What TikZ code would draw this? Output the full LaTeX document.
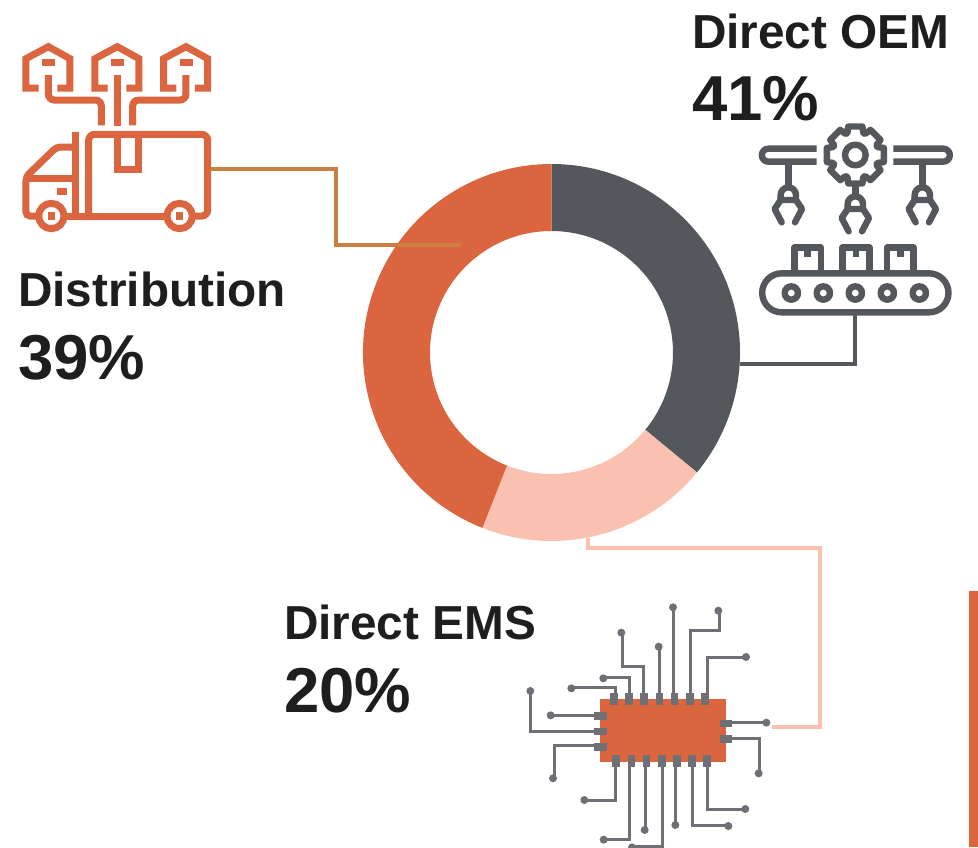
\documentclass[tikz,border=0pt]{standalone}
\usepackage{fontspec}
\setmainfont{Liberation Sans}
\definecolor{orangeC}{HTML}{DA653E}
\definecolor{darkC}{HTML}{54575B}
\definecolor{pinkC}{HTML}{FBC1B0}
\definecolor{ochreC}{HTML}{CB7F40}
\definecolor{padC}{HTML}{6F7075}
\definecolor{textC}{HTML}{1E1E1E}
\tikzset{
  head/.style={anchor=base west,inner sep=0pt,font=\bfseries\fontsize{47.7}{50}\selectfont,text=textC},
  pct/.style={anchor=base west,inner sep=0pt,font=\bfseries\fontsize{63.5}{66}\selectfont,text=textC},
  link/.style={line width=4pt},
  anchorbox/.style={inner sep=0pt,draw=none},
  truckline/.style={draw=orangeC,line width=7pt,line join=miter},
  robotline/.style={draw=darkC,line width=6.4pt,line join=round},
  wire/.style={draw=padC,line width=3pt},
  gripper/.pic={
    \draw[robotline,line cap=round] (-23,-5) -- (-23,-20) arc[start angle=180,end angle=360,radius=23] -- (23,-5) -- cycle;
    \draw[robotline,line cap=round] (-23,-5) -- (-41,22) -- (-20,62);
    \draw[robotline,line cap=round] (23,-5) -- (41,22) -- (20,62);
  }
}
\newcommand\wirepath[2]{\draw[wire] #1; \fill[padC] #2 circle[radius=12];}
\begin{document}
\begin{tikzpicture}[x=1pt,y=-1pt]
\useasboundingbox (0,0) rectangle (978,847);
\clip (0,0) rectangle (978,847);
\fill[white] (0,0) rectangle (978,847);

% donut
\begin{scope}[shift={(551.5,352.5)},x=1pt,y=1pt]
  \fill[darkC] (90:188.5) arc[start angle=90,end angle=-39.5,radius=188.5] -- (-39.5:121.5) arc[start angle=-39.5,end angle=90,radius=121.5] -- cycle;
  \fill[pinkC] (-39.5:188.5) arc[start angle=-39.5,end angle=-111.5,radius=188.5] -- (-111.5:121.5) arc[start angle=-111.5,end angle=-39.5,radius=121.5] -- cycle;
  \fill[orangeC] (-111.5:188.5) arc[start angle=-111.5,end angle=-270,radius=188.5] -- (90:121.5) arc[start angle=-270,end angle=-111.5,radius=121.5] -- cycle;
\end{scope}
\node[anchorbox,circle,minimum size=377pt] (donut) at (551.5,352.5) {};

% right bar
\fill[orangeC] (969,591) rectangle (978,847);

% labels
\node[head] (oemT) at (692,48) {Direct OEM};
\node[pct]  (oemP) at (692,120) {41\%};
\node[head] (disT) at (18,306) {Distribution};
\node[pct]  (disP) at (18,379) {39\%};
\node[head] (emsT) at (284,639) {Direct EMS};
\node[pct]  (emsP) at (284,712) {20\%};

% truck icon
\node[anchorbox,minimum width=188pt,minimum height=2pt] (truck) at (117,169) {};
\begin{scope}[shift={(0,20)},x=.33333pt,y=-.33333pt]
  \foreach \d in {0,207,413}{
    \draw[truckline] (116+\d,204) -- (78+\d,204) -- (78+\d,116) -- (145+\d,80) -- (210+\d,116) -- (210+\d,204) -- (172+\d,204);
    \fill[orangeC] (126+\d,117) rectangle (165+\d,137);
  }
  \draw[truckline,rounded corners=6pt] (145,165) -- (145,240) -- (304,240) -- (304,316);
  \draw[truckline,line width=7.4pt] (352,165) -- (352,318);
  \draw[truckline,rounded corners=6pt] (558,165) -- (558,240) -- (398,240) -- (398,316);
  \draw[truckline,rounded corners=6pt] (266,588) -- (266,343) -- (623,343) -- (623,588) -- (585,588);
  \draw[truckline] (200,588) -- (495,588);
  \draw[truckline] (352,343) -- (352,447) -- (417,447) -- (417,343);
  \draw[truckline] (228,336) -- (228,588);
  \draw[truckline,rounded corners=4pt] (228,381) -- (170,381) -- (78,470) -- (78,588) -- (110,588);
  \draw[truckline] (82,475) -- (228,475);
  \fill[orangeC] (171,504) rectangle (201,524);
  \foreach \c in {154,539}{
    \fill[white] (\c,588) circle[radius=38];
    \draw[truckline] (\c,588) circle[radius=38];
    \fill[orangeC] (\c-11,577) rectangle (\c+11,600);
  }
\end{scope}

% robot icon
\node[anchorbox,minimum width=4pt,minimum height=2pt] (belt) at (855.3,313) {};
\begin{scope}[shift={(740,110)},x=.33333pt,y=-.33333pt]
  \draw[robotline] (230,116) -- (85,116) arc[start angle=-90,end angle=-270,radius=19.5] -- (230,155);
  \draw[robotline] (460,116) -- (610,116) arc[start angle=-90,end angle=90,radius=19.5] -- (460,155);
  \begin{scope}[shift={(346,135)}]
    \draw[robotline] (-20:70) -- (-14:88) -- (14:88) -- (20:70)
      foreach \a in {45,90,...,315}{ -- (\a-20:70) -- (\a-14:88) -- (\a+14:88) -- (\a+20:70)} -- cycle;
    \draw[robotline] (0,0) circle[radius=31];
  \end{scope}
  \draw[robotline] (145,160) -- (145,235);
  \draw[robotline] (547,160) -- (547,235);
  \draw[robotline] (346,225) -- (346,262);
  \path (145,275) pic {gripper};
  \path (547,275) pic {gripper};
  \path (346,302) pic {gripper};
  \foreach \l/\r in {163/243,308/388,441/520}{
    \draw[robotline] (\l,490) -- (\l,413) -- (\r,413) -- (\r,490);
    \fill[darkC] ({(\l+\r)/2-10},413) rectangle ({(\l+\r)/2+10},442);
  }
  \draw[robotline] (125,490) -- (567,490) arc[start angle=-90,end angle=90,radius=58.5] -- (125,607) arc[start angle=90,end angle=270,radius=58.5] -- cycle;
  \foreach \c in {154,250,346,442,538}{
    \draw[robotline] (\c,549) circle[radius=20];
  }
\end{scope}

% chip icon
\node[anchorbox,fill=orangeC,minimum width=126pt,minimum height=63pt] (chip) at (663,730.5) {};
\begin{scope}[shift={(510,590)},x=.33333pt,y=-.33333pt]
  \wirepath{(316,308) -- (316,293) -- (184,293)}{(184,295)}
  \wirepath{(358,308) -- (358,263) -- (280,263)}{(280,265)}
  \wirepath{(399,308) -- (399,228) -- (336,228) -- (336,128)}{(334,128)}
  \wirepath{(448,308) -- (448,170)}{(446,170)}
  \wirepath{(491,308) -- (491,52)}{(489,52)}
  \wirepath{(541,308) -- (541,122) -- (627,122) -- (627,62)}{(625,62)}
  \wirepath{(592,308) -- (592,201) -- (708,201)}{(708,201)}
  \wirepath{(253,377) -- (122,377)}{(122,376)}
  \wirepath{(253,424) -- (61,424) -- (61,303)}{(61,303)}
  \wirepath{(253,465) -- (132,465) -- (132,565)}{(129,565)}
  \wirepath{(666,398) -- (769,398)}{(769,398)}
  \wirepath{(666,444) -- (747,444) -- (747,550)}{(746,550)}
  \wirepath{(316,532) -- (316,630) -- (223,630)}{(223,630)}
  \wirepath{(358,532) -- (358,748) -- (281,748)}{(281,749)}
  \wirepath{(406,532) -- (406,720)}{(404,720)}
  \wirepath{(457,532) -- (457,768) -- (366,768)}{(366,772)}
  \wirepath{(497,532) -- (497,705)}{(496,705)}
  \wirepath{(548,532) -- (548,707) -- (655,707)}{(655,708)}
  \wirepath{(591,532) -- (591,657) -- (706,657)}{(706,657)}
  \foreach \c in {311,357,402,448,493,539,585}{ \fill[padC] (\c-11.5,308) rectangle (\c+11.5,346); }
  \foreach \c in {318,364,409,455,500,545,591}{ \fill[padC] (\c-11.5,496) rectangle (\c+11.5,532); }
  \foreach \c in {378,424,470}{ \fill[padC] (253,\c-11.5) rectangle (291,\c+11.5); }
  \foreach \c in {400,446}{ \fill[padC] (629,\c-11.5) rectangle (666,\c+11.5); }
\end{scope}

% connectors
\coordinate (disEnd) at (461,245);
\coordinate (disMid) at (336,245);
\coordinate (oemCorner) at (855.3,363.5);
\coordinate (emsA) at (820,548);
\coordinate (emsB) at (820,727);
\coordinate (emsEnd) at (772,727);
\draw[link,draw=ochreC] (truck.east) -| (disMid) -- (disEnd);
\draw[link,draw=darkC] (donut.east |- oemCorner) -- (oemCorner) -- (belt.south);
\draw[link,draw=pinkC] (donut.-79) |- (emsA) -- (emsB) -- (emsEnd);
\end{tikzpicture}
\end{document}
